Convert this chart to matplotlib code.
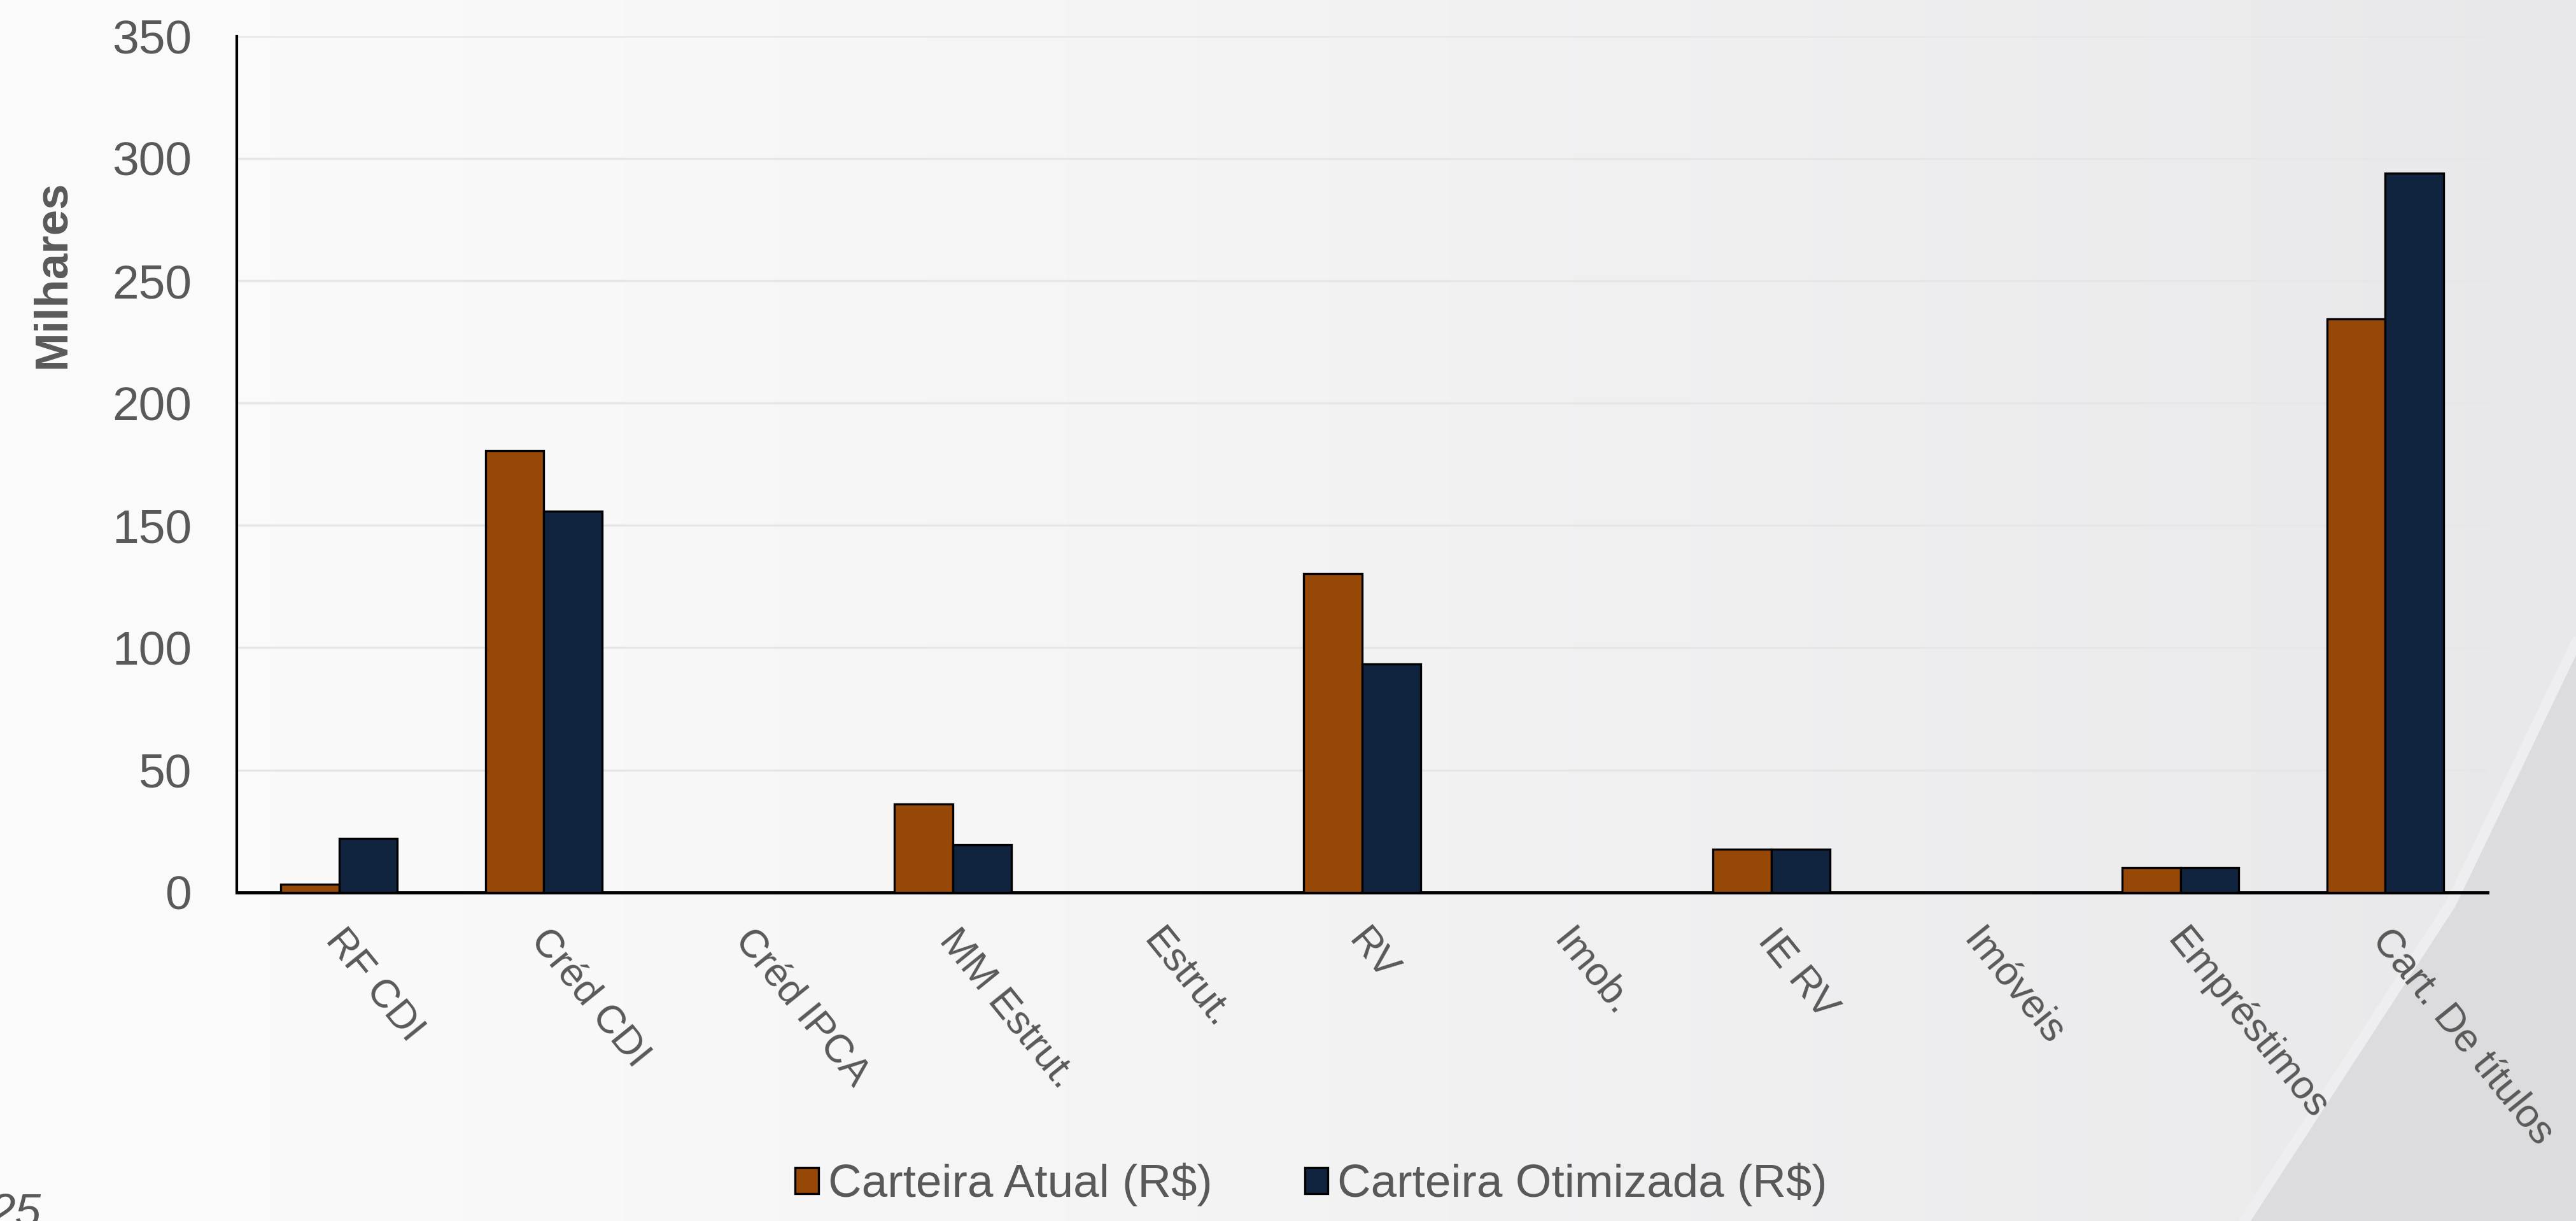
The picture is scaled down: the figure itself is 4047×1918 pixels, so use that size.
import numpy as np
import matplotlib.pyplot as plt
import matplotlib.transforms as mtransforms
from matplotlib.patches import Polygon

plt.rcParams['font.family'] = ['Liberation Sans', 'DejaVu Sans']

categorias = ["RF CDI", "Créd CDI", "Créd IPCA", "MM Estrut.", "Estrut.", "RV",
              "Imob.", "IE RV", "Imóveis", "Empréstimos", "Cart. De títulos"]
carteira_atual = [3.3, 180.6, 0, 36.1, 0, 130.3, 0, 17.6, 0, 10.1, 234.3]
carteira_otimizada = [22.1, 155.8, 0, 19.4, 0, 93.4, 0, 17.6, 0, 10.1, 294.0]
yticks = [0, 50, 100, 150, 200, 250, 300, 350]

cor_atual = "#974706"
cor_otim = "#10233f"
cinza = "#595959"

W, H = 4047, 1918
fig = plt.figure(figsize=(W / 300, H / 300), dpi=300)

# slide background: light horizontal gradient + folded corner
bg = fig.add_axes([0, 0, 1, 1], zorder=-10)
grad = np.linspace(0, 1, 256)
left = np.array([251, 251, 251]) / 255
right = np.array([232, 232, 234]) / 255
img = left[None, :] + (right - left)[None, :] * grad[:, None] ** 1.3
bg.imshow(img[None, :, :], aspect="auto", extent=[0, W, 0, H])
dobra = [(W, H - 1010), (3850, H - 1420), (3526, 0)]
bg.add_patch(Polygon(dobra + [(W, 0)], closed=True,
                     facecolor="#dcdcde", edgecolor="none"))
bg.plot([p[0] for p in dobra], [p[1] for p in dobra], color="#eeeef0", lw=4)
bg.set_xlim(0, W)
bg.set_ylim(0, H)
bg.axis("off")

ax = fig.add_axes([372 / W, 1 - 1401.7 / H, (3908 - 372) / W, (1401.7 - 56.8) / H])
ax.patch.set_alpha(0)

x = np.arange(len(categorias))
w = 0.285
ax.bar(x - w / 2, carteira_atual, w, color=cor_atual, edgecolor="black",
       linewidth=0.8, label="Carteira Atual (R$)", zorder=3)
ax.bar(x + w / 2, carteira_otimizada, w, color=cor_otim, edgecolor="black",
       linewidth=0.8, label="Carteira Otimizada (R$)", zorder=3)

ax.set_xlim(-0.5, len(categorias) - 0.5)
ax.set_ylim(0, 350)
ax.set_yticks(yticks)
ax.yaxis.grid(True, color="#e6e6e6", lw=0.8, zorder=0)
ax.tick_params(axis="y", length=0, pad=17, labelsize=18, labelcolor=cinza)
ax.set_xticks(x)
ax.set_xticklabels([])
ax.tick_params(axis="x", length=0)

# rotated category labels
trans = mtransforms.blended_transform_factory(ax.transData, ax.transAxes)
for xi, nome in zip(x, categorias):
    ax.text(xi + 0.04, -0.035, nome, transform=trans, rotation=-51,
            rotation_mode="anchor", ha="left", va="top", fontsize=15,
            color=cinza)

for s in ["top", "right"]:
    ax.spines[s].set_visible(False)
ax.spines["left"].set_color("black")
ax.spines["bottom"].set_color("black")
ax.spines["left"].set_linewidth(1.0)
ax.spines["bottom"].set_linewidth(1.2)

fig.text(83 / W, 1 - 431 / H, "Milhares", rotation=90, ha="center", va="center",
         fontsize=17.5, fontweight="bold", color=cinza)

fig.legend(loc="center", bbox_to_anchor=(2060 / W, 1 - 1861 / H), ncol=2,
           frameon=False, fontsize=17.5, labelcolor=cinza, handlelength=0.5,
           handleheight=0.5, handletextpad=0.2, columnspacing=2.0)

# cut-off page number of the slide
fig.text(-0.004, 1 - 1873 / H, "25", fontsize=17.5, style="italic",
         color=cinza, ha="left", va="top")

fig.savefig("out.png", dpi=300)
